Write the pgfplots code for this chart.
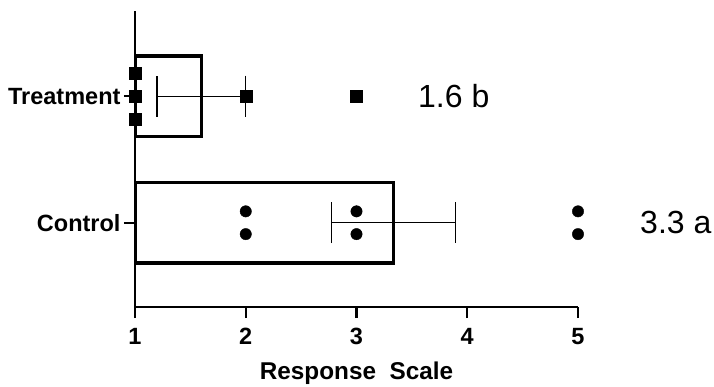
\documentclass[border=0pt]{standalone}
\usepackage{pgfplots}
\pgfplotsset{compat=1.18}
\usepackage{fontspec}
\setmainfont{Liberation Sans}
\begin{document}
\begin{tikzpicture}[x=1pt,y=1pt]
\useasboundingbox (-135,-80) rectangle (579,307);
\begin{axis}[
  scale only axis, width=443pt, height=296.3pt,
  at={(0pt,0pt)}, anchor=south west,
  xmin=1, xmax=5, ymin=-0.666, ymax=1.676,
  axis x line*=bottom, axis y line*=left,
  axis line style={line width=2.8pt, -},
  axis on top,
  xtick={1,2,3,4,5}, ytick={0,1}, yticklabels={Control,Treatment},
  tick style={line width=2.4pt, black},
  tick align=outside, major tick length=11pt,
  ticklabel style={font=\fontsize{23.5}{28}\selectfont\bfseries},
  xticklabel style={yshift=-7pt},
  /pgf/number format/assume math mode=true,
  xlabel={Response\ \ Scale},
  xlabel style={font=\fontsize{24.3}{29}\selectfont\bfseries, yshift=-10pt},
  clip mode=individual,
]
\addplot[xbar, bar width=0.637, fill=white, draw=black, line width=3.5pt,
  error bars/.cd, x dir=both, x explicit,
  error bar style={line width=1.3pt, black},
  error mark options={line width=1.3pt, mark size=20.5pt, rotate=90, black}]
  coordinates {(3.333,0) +- (0.558,0) (1.6,1) +- (0.4,0)};
\addplot[only marks, mark=square*, mark size=6pt, black]
  coordinates {(1,1.185) (1,1) (1,0.815) (2,1) (3,1)};
\addplot[only marks, mark=*, mark size=5.7pt, black]
  coordinates {(2,0.09) (2,-0.09) (3,0.09) (3,-0.09) (5,0.09) (5,-0.09)};
\node[anchor=west, inner sep=0pt, font=\fontsize{32}{38}\selectfont] at (axis cs:3.555,1) {1.6 b};
\node[anchor=west, inner sep=0pt, font=\fontsize{32}{38}\selectfont] at (axis cs:5.56,0) {3.3 a};
\end{axis}
\end{tikzpicture}
\end{document}
